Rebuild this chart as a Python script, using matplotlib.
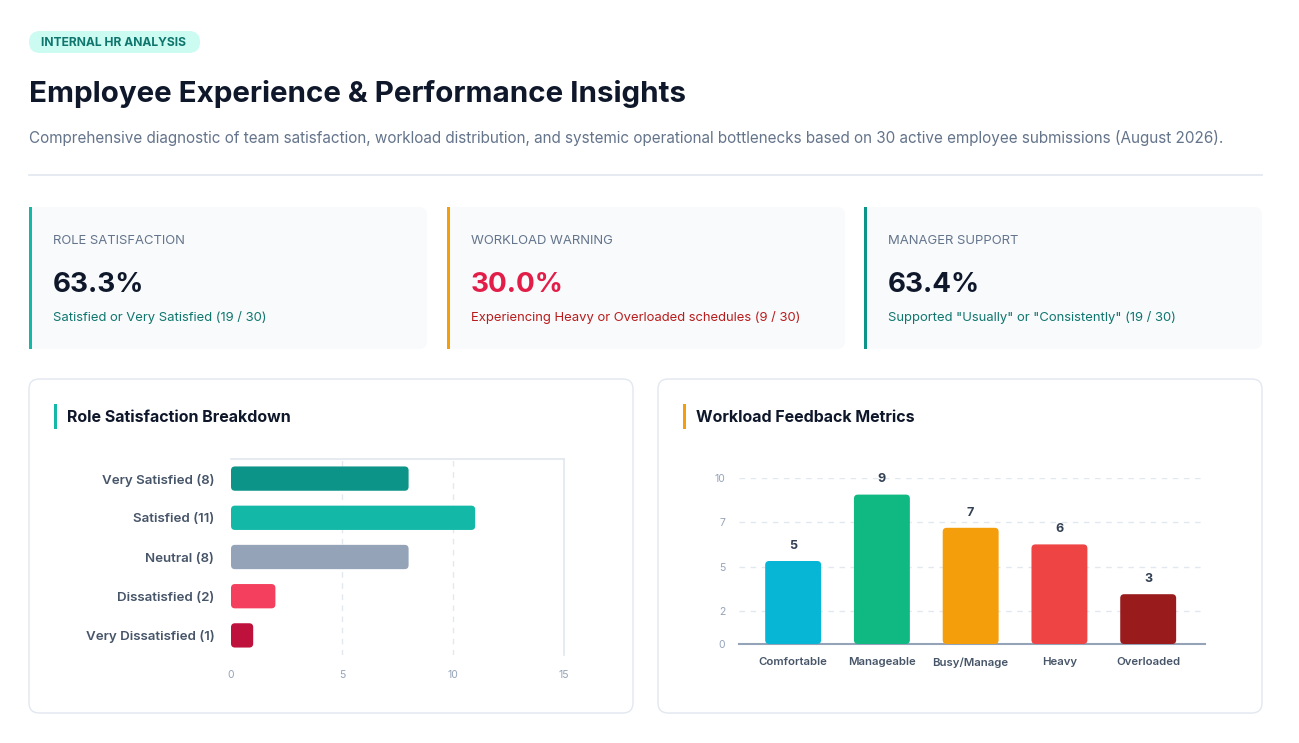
import numpy as np
import matplotlib
matplotlib.use("Agg")
import matplotlib.pyplot as plt
from matplotlib.patches import FancyBboxPatch, Rectangle

plt.rcParams['font.family'] = ['Inter', 'DejaVu Sans']

# ---- data ----
sat_labels = ["Very Satisfied (8)", "Satisfied (11)", "Neutral (8)",
              "Dissatisfied (2)", "Very Dissatisfied (1)"]
sat_values = [8, 11, 8, 2, 1]
sat_colors = ["#0d9488", "#14b8a6", "#94a3b8", "#f43f5e", "#be123c"]

work_labels = ["Comfortable", "Manageable", "Busy/Manage", "Heavy", "Overloaded"]
work_values = [5, 9, 7, 6, 3]
work_colors = ["#06b6d4", "#10b981", "#f59e0b", "#ef4444", "#991b1b"]
work_ticks = [0, 1.97, 4.65, 7.35, 10]
work_tick_labels = ["0", "2", "5", "7", "10"]

kpi_titles = ["ROLE SATISFACTION", "WORKLOAD WARNING", "MANAGER SUPPORT"]
kpi_values = ["63.3%", "30.0%", "63.4%"]
kpi_notes = ["Satisfied or Very Satisfied (19 / 30)",
             "Experiencing Heavy or Overloaded schedules (9 / 30)",
             "Supported \"Usually\" or \"Consistently\" (19 / 30)"]
kpi_accent = ["#14b8a6", "#f59e0b", "#0d9488"]
kpi_value_col = ["#0f172a", "#e11d48", "#0f172a"]
kpi_note_col = ["#0f766e", "#b91c1c", "#0f766e"]

W, H = 1299, 743
fig = plt.figure(figsize=(W / 100, H / 100), dpi=100)
fig.patch.set_facecolor("white")

# background layer in pixel coords
bg = fig.add_axes([0, 0, 1, 1], zorder=0)
bg.set_xlim(0, W)
bg.set_ylim(H, 0)
bg.axis("off")

# header
bg.add_patch(FancyBboxPatch((29, 31), 171, 22, boxstyle="round,pad=0,rounding_size=11",
                            fc="#ccfbf1", ec="none"))
bg.text(41, 46.5, "INTERNAL HR ANALYSIS", fontsize=8.7, fontweight="bold",
        color="#0f766e", va="baseline")
bg.text(29, 102, "Employee Experience & Performance Insights", fontsize=21.3,
        fontweight="bold", color="#0f172a", va="baseline")
bg.text(29, 143.5, "Comprehensive diagnostic of team satisfaction, workload distribution, "
        "and systemic operational bottlenecks based on 30 active employee submissions (August 2026).",
        fontsize=11.0, color="#64748b", va="baseline")
bg.plot([29, 1262], [175, 175], color="#e2e8f0", lw=1.2)

# KPI cards
card_x = [29, 447, 864]
for i in range(3):
    x0 = card_x[i]
    bg.add_patch(FancyBboxPatch((x0, 207), 398, 142, boxstyle="round,pad=0,rounding_size=8",
                                fc="#f8fafc", ec="none"))
    bg.add_patch(Rectangle((x0, 207), 3, 142, fc=kpi_accent[i], ec="none"))
    bg.text(x0 + 24, 244.5, kpi_titles[i], fontsize=9.4, color="#64748b", va="baseline")
    bg.text(x0 + 24, 292, kpi_values[i], fontsize=20, fontweight="bold",
            color=kpi_value_col[i], va="baseline")
    bg.text(x0 + 24, 320.5, kpi_notes[i], fontsize=9.4, color=kpi_note_col[i], va="baseline")

# chart panels
panels = [(29, "Role Satisfaction Breakdown", "#14b8a6"),
          (658, "Workload Feedback Metrics", "#f59e0b")]
for x0, title, acc in panels:
    bg.add_patch(FancyBboxPatch((x0, 379), 604, 334, boxstyle="round,pad=0,rounding_size=10",
                                fc="white", ec="#e2e8f0", lw=1))
    bg.add_patch(Rectangle((x0 + 25, 404), 3, 25, fc=acc, ec="none"))
    bg.text(x0 + 38, 422.5, title, fontsize=11.5, fontweight="bold", color="#0f172a",
            va="baseline")


def px_axes(left, top, right, bottom):
    return fig.add_axes([left / W, 1 - bottom / H, (right - left) / W, (bottom - top) / H],
                        zorder=2)


def round_bars(ax, bars, r, asp):
    for b in bars:
        x0, y0 = b.get_xy()
        b.set_visible(False)
        ax.add_patch(FancyBboxPatch((x0, y0), b.get_width(), b.get_height(),
                                    boxstyle=f"round,pad=0,rounding_size={r}",
                                    mutation_aspect=asp, fc=b.get_facecolor(),
                                    ec="none", zorder=3))


# ---- left: horizontal bars ----
ax1 = px_axes(231, 459, 564, 655)
ax1.patch.set_alpha(0)
ypos = np.arange(len(sat_values))
bars1 = ax1.barh(ypos, sat_values, height=0.62, color=sat_colors)
round_bars(ax1, bars1, 0.18, 0.57)
ax1.set_xlim(0, 15)
ax1.set_ylim(4.5, -0.5)
ax1.set_xticks([0, 5, 10, 15])
ax1.set_yticks(ypos)
ax1.set_yticklabels(sat_labels, fontsize=9.6, color="#475569", fontweight="semibold")
ax1.tick_params(axis="y", length=0, pad=12)
ax1.tick_params(axis="x", length=0, pad=11, labelsize=7.5, labelcolor="#94a3b8")
for v in [5, 10]:
    ax1.axvline(v, color="#e2e8f0", lw=1, ls=(0, (4, 4)), zorder=1)
for s in ["left", "bottom"]:
    ax1.spines[s].set_visible(False)
for s in ["top", "right"]:
    ax1.spines[s].set_color("#e2e8f0")
    ax1.spines[s].set_linewidth(1.2)

# ---- right: vertical bars ----
ax2 = px_axes(739, 478, 1205, 644)
ax2.patch.set_alpha(0)
xpos = np.arange(len(work_values))
bars2 = ax2.bar(xpos, work_values, width=0.63, color=work_colors)
round_bars(ax2, bars2, 0.045, 5.3)
ax2.set_xlim(-0.61, 4.64)
ax2.set_ylim(0, 10)
ax2.set_yticks(work_ticks)
ax2.set_yticklabels(work_tick_labels)
ax2.set_xticks(xpos)
ax2.set_xticklabels(work_labels, fontsize=8.2, color="#475569", fontweight="semibold")
ax2.tick_params(axis="x", length=0, pad=9.5)
ax2.tick_params(axis="y", length=0, pad=10, labelsize=7.5, labelcolor="#94a3b8")
for t in work_ticks[1:]:
    ax2.axhline(t, color="#e2e8f0", lw=1, ls=(0, (4, 4)), zorder=1)
for s in ["left", "top", "right"]:
    ax2.spines[s].set_visible(False)
ax2.spines["bottom"].set_color("#94a3b8")
ax2.spines["bottom"].set_linewidth(1.5)
for x, v in zip(xpos, work_values):
    ax2.annotate(str(v), (x, v), xytext=(0, 11), textcoords="offset points",
                 ha="center", va="center", fontsize=9, fontweight="bold", color="#334155")

fig.savefig("out.png", dpi=100, facecolor="white")
